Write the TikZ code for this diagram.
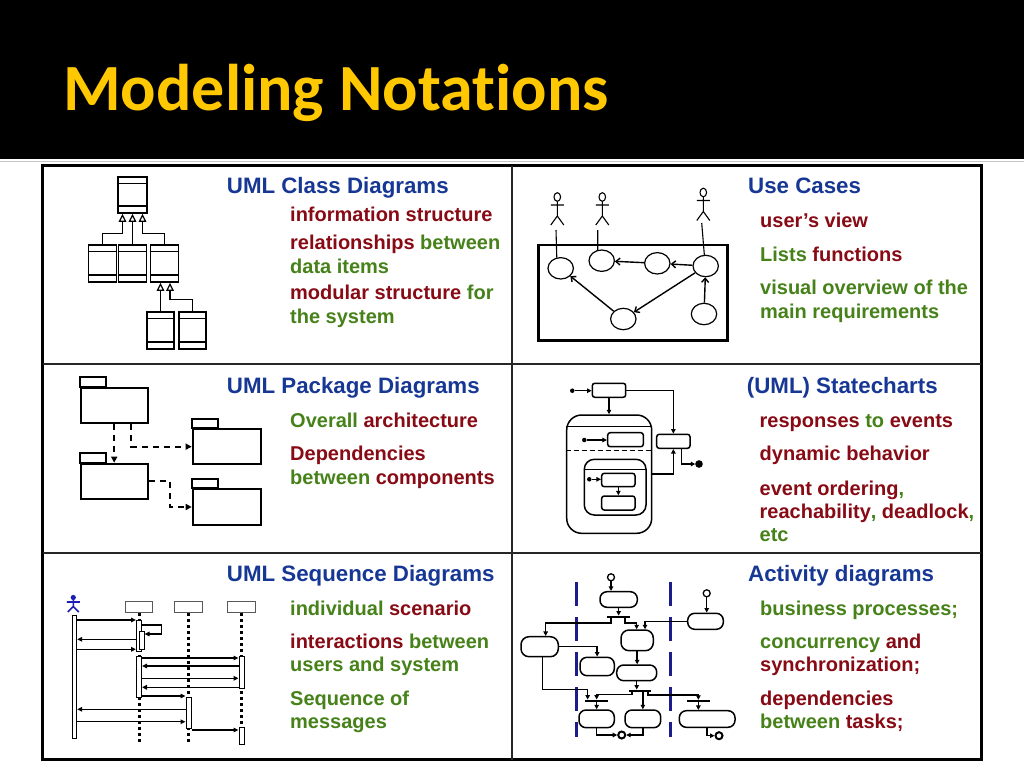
\documentclass[tikz,border=0pt]{standalone}
\usepackage{fontspec}
\setmainfont{Liberation Sans}
\newfontfamily\ttlfont{Carlito}[Ligatures={NoCommon}]
\usetikzlibrary{arrows.meta,calc,shapes.geometric}
\definecolor{hblue}{RGB}{23,55,148}
\definecolor{dred}{RGB}{135,10,20}
\definecolor{dgreen}{RGB}{70,130,25}
\definecolor{gold}{RGB}{255,200,0}
\definecolor{navy}{RGB}{28,28,140}
\definecolor{seqblue}{RGB}{30,30,180}
\newcommand\redt[1]{\textcolor{dred}{#1}}
\newcommand\grnt[1]{\textcolor{dgreen}{#1}}
\begin{document}
\begin{tikzpicture}[x=1pt,y=-1pt,
  hd/.style={anchor=base west, inner sep=0, text=hblue, font=\bfseries\fontsize{22.3}{26}\selectfont},
  it/.style={anchor=base west, inner sep=0, font=\bfseries\fontsize{20}{24}\selectfont},
  cls/.style={draw, line width=1.5pt, minimum width=28pt, minimum height=37pt, inner sep=0,
    path picture={\draw[line width=1.5pt]
      ([yshift=-6.5pt]path picture bounding box.north west) -- ([yshift=-6.5pt]path picture bounding box.north east)
      ([yshift=7pt]path picture bounding box.south west) -- ([yshift=7pt]path picture bounding box.south east);}},
  gen/.style={line width=1.5pt, -{Triangle[length=8pt,width=7.5pt,fill=white,line width=1.2pt]}},
  uc/.style={draw, ellipse, line width=1.2pt, minimum width=25.4pt, minimum height=21.4pt, inner sep=0},
  uarr/.style={line width=1.4pt, -{Straight Barb[length=4pt,width=7pt]}},
  pk/.style={draw, line width=2pt, inner sep=0},
  dep/.style={line width=2pt, dash pattern=on 6pt off 5pt, -{Triangle[length=6pt,width=6pt]}},
  st/.style={draw, line width=1.5pt, rounded corners=2.5pt, inner sep=0},
  sarr/.style={line width=1.5pt, -{Triangle[length=4.5pt,width=4.5pt]}},
  sdot/.style={circle, fill, inner sep=0, minimum size=4.5pt},
  obj/.style={draw=gray!70!black, line width=1pt, inner sep=0, minimum height=11pt, fill=white},
  life/.style={line width=3pt, dash pattern=on 3pt off 3pt},
  actb/.style={draw, line width=1pt, fill=white, inner sep=0, minimum width=5pt},
  msg/.style={line width=1.4pt, -{Triangle[length=5pt,width=4.5pt]}},
  act/.style={draw, line width=1.5pt, rounded corners=7pt, inner sep=0},
  fbar/.style={fill, inner sep=0, minimum height=2pt},
  aarr/.style={line width=1.5pt, -{Triangle[length=4.5pt,width=4.5pt]}},
  lane/.style={navy, line width=3pt, dash pattern=on 24pt off 11pt},
  stick/.pic={\draw[line width=1.1pt] (0,0) ellipse [x radius=3.3pt, y radius=4.3pt];
    \draw[line width=1.1pt] (0,4.3) -- (0,19) (-6.5,8) -- (6.5,8) (-6.5,28) -- (0,19) -- (6.5,28);},
  bluestick/.pic={\fill[seqblue] (0,0) circle[radius=2.6pt];
    \draw[seqblue, line width=1.6pt] (0,2) -- (0,9) (-6.5,4.5) -- (6.5,4.5) (-5.5,14.5) -- (0,9) -- (5.5,14.5);}
]
\useasboundingbox (0,0) rectangle (1024,768);
\fill[white] (0,0) rectangle (1024,768);
\fill[black] (0,0) rectangle (1024,159);
\draw[gray!45, line width=1.5pt] (0,161.5) -- (1024,161.5);
\node[anchor=base west, inner sep=0, text=gold, font=\ttlfont\bfseries\fontsize{66}{70}\selectfont] (title) at (63,110) {Modeling Notations};

% table
\draw[line width=3pt] (42.5,165.5) rectangle (981,759.5);
\draw[gray!30!black, line width=2pt] (512,165.5) -- (512,759.5);
\draw[gray!30!black, line width=2pt] (42.5,364) -- (981,364);
\draw[gray!30!black, line width=2pt] (42.5,552.5) -- (981,552.5);

% texts
\node[hd] (h1) at (226.7,193.3) {UML Class Diagrams};
\node[it] (t11) at (290,221.5) {\redt{information structure}};
\node[it] (t12) at (290,249.5) {\redt{relationships} \grnt{between}};
\node[it] (t13) at (290,273) {\grnt{data items}};
\node[it] (t14) at (290,299.5) {\redt{modular structure} \grnt{for}};
\node[it] (t15) at (290,323.5) {\grnt{the system}};

\node[hd] (h2) at (748,193.3) {Use Cases};
\node[it] (t21) at (760,227) {\redt{user’s view}};
\node[it] (t22) at (760,261) {\grnt{Lists} \redt{functions}};
\node[it] (t23) at (760,294) {\grnt{visual overview of the}};
\node[it] (t24) at (760,318) {\grnt{main requirements}};

\node[hd] (h3) at (226.7,393.3) {UML Package Diagrams};
\node[it] (t31) at (290,427.3) {\grnt{Overall} \redt{architecture}};
\node[it] (t32) at (290,460.7) {\redt{Dependencies}};
\node[it] (t33) at (290,484.3) {\grnt{between} \redt{components}};

\node[hd] (h4) at (746.7,393.3) {(UML) Statecharts};
\node[it] (t41) at (759.5,427.3) {\redt{responses} \grnt{to} \redt{events}};
\node[it] (t42) at (759.5,460.7) {\redt{dynamic behavior}};
\node[it] (t43) at (759.5,495) {\redt{event ordering}\grnt{,}};
\node[it] (t44) at (759.5,518.3) {\redt{reachability}\grnt{,} \redt{deadlock}\grnt{,}};
\node[it] (t45) at (759.5,541.7) {\grnt{etc}};

\node[hd] (h5) at (226.7,581.7) {UML Sequence Diagrams};
\node[it] (t51) at (290,615) {\grnt{individual} \redt{scenario}};
\node[it] (t52) at (290,648.3) {\redt{interactions} \grnt{between}};
\node[it] (t53) at (290,671.7) {\grnt{users and system}};
\node[it] (t54) at (290,705) {\grnt{Sequence of}};
\node[it] (t55) at (290,728.3) {\grnt{messages}};

\node[hd] (h6) at (748,581.7) {Activity diagrams};
\node[it] (t61) at (760,615) {\grnt{business processes;}};
\node[it] (t62) at (760,648.3) {\grnt{concurrency} \redt{and}};
\node[it] (t63) at (760,671.7) {\redt{synchronization;}};
\node[it] (t64) at (760,705) {\redt{dependencies}};
\node[it] (t65) at (760,728.3) {\grnt{between} \redt{tasks;}};

% ---- class diagram
\node[cls, minimum width=29pt, minimum height=36pt] (ctop) at (132.5,195) {};
\node[cls] (c1) at (102.5,263.5) {};
\node[cls] (c2) at (132.5,263.5) {};
\node[cls] (c3) at (164.5,263.5) {};
\node[cls, minimum width=27pt] (c4) at (160.5,330.5) {};
\node[cls, minimum width=27pt] (c5) at (192.5,330.5) {};
\draw[gen] (c1.north) -- ++(0,-11) -| ([xshift=-10pt]ctop.south);
\draw[gen] (c2.north) -- (ctop.south);
\draw[gen] (c3.north) -- ++(0,-11) -| ([xshift=10pt]ctop.south);
\draw[gen] (c4.north) -- (c4.north |- c3.south);
\draw[gen] (c5.north) -- ++(0,-12) -| ([xshift=5.5pt]c3.south);

% ---- use cases
\node[draw, line width=2.5pt, minimum width=189.4pt, minimum height=95.7pt, inner sep=0] (ucb) at (633,292.85) {};
\node[uc] (E1) at (560.7,268.3) {};
\node[uc] (E2) at (601.7,260.7) {};
\node[uc] (E3) at (657.3,263.3) {};
\node[uc] (E4) at (705.7,266) {};
\node[uc] (E5) at (623.3,319) {};
\node[uc] (E6) at (704,314) {};
\pic (u1) at (557.3,197) {stick};
\pic (u2) at (602.3,197) {stick};
\pic (u3) at (703.3,192.5) {stick};
\coordinate (a1f) at (556,230);
\coordinate (a2f) at (597.7,230);
\coordinate (a3f) at (701.7,223);
\draw[line width=1.1pt] (a1f) -- (E1.110);
\draw[line width=1.1pt] (a2f) -- (E2.110);
\draw[line width=1.1pt] (a3f) -- (E4.97);
\draw[uarr] (E4) -- (E3);
\draw[uarr] (E3) -- (E2);
\draw[uarr] (E4) -- (E5);
\draw[uarr] (E5) -- (E1);
\draw[uarr] (E6) -- (E4);

% ---- packages
\node[pk, minimum width=67pt, minimum height=35pt] (p1) at (114.2,405.8) {};
\node[pk, minimum width=67pt, minimum height=35.3pt] (p2) at (114.2,481.35) {};
\node[pk, minimum width=68pt, minimum height=35.3pt] (p3) at (226.7,446.65) {};
\node[pk, minimum width=68pt, minimum height=36pt] (p4) at (226.7,507) {};
\draw[line width=2pt] (p1.north west) rectangle ++(26,-10);
\draw[line width=2pt] (p2.north west) rectangle ++(26,-9.5);
\draw[line width=2pt] (p3.north west) rectangle ++(26,-9.5);
\draw[line width=2pt] (p4.north west) rectangle ++(26,-9);
\draw[dep] (p1.south) -- (p2.north);
\draw[dep] ([xshift=17pt]p1.south) |- (p3.west);
\draw[dep] (p2.east) -| ($(p2.east)!0.5!(p4.west)$) |- (p4.west);

% ---- statechart
\node[sdot] (s0) at (572.3,390.7) {};
\node[st, minimum width=33.4pt, minimum height=14pt] (sA) at (609,390.3) {};
\node[draw, line width=1.5pt, rounded corners=15pt, minimum width=85pt, minimum height=118.3pt, inner sep=0] (sBig) at (609.2,474.15) {};
\draw[line width=1.5pt] ([yshift=-12.3pt]sBig.north west) -- ([yshift=-12.3pt]sBig.north east);
\draw[line width=1.5pt, dash pattern=on 5pt off 3pt] ([yshift=-36pt]sBig.north west) -- ([yshift=-36pt]sBig.north east);
\node[sdot] (r1) at (584.3,440) {};
\node[st, minimum width=35.6pt, minimum height=14pt] (sR1) at (625.5,439.7) {};
\node[draw, line width=1.5pt, rounded corners=10pt, minimum width=61.7pt, minimum height=55.7pt, inner sep=0] (sIn) at (615.15,487.15) {};
\draw[line width=1.5pt] ([yshift=-10.7pt]sIn.north west) -- ([yshift=-10.7pt]sIn.north east);
\node[sdot] (r2) at (589.3,479.3) {};
\node[st, minimum width=33.3pt, minimum height=13.4pt] (sIA) at (618.35,480) {};
\node[st, minimum width=33.3pt, minimum height=14pt] (sIB) at (618.35,503) {};
\node[st, minimum width=33.3pt, minimum height=14pt] (sB) at (673.35,441.3) {};
\node[circle, fill, draw, line width=1pt, inner sep=0, minimum size=6.5pt] (sF) at (699,464) {};
\draw[sarr] (s0) -- (s0 -| sA.west);
\draw[sarr] (sA.south) -- (sA.south |- sBig.north);
\draw[sarr] (sA.east) -| (sB.north);
\draw[sarr] (sBig.east) -| (sB.south);
\draw[sarr] ([xshift=8pt]sB.south) |- (sF);
\draw[sarr] (r1) -- (r1 -| sR1.west);
\draw[sarr] (r2) -- (r2 -| sIA.west);
\draw[sarr] (sIA.south) -- (sIB.north);

% ---- sequence
\pic (sq) at (73.3,597.5) {bluestick};
\node[actb, minimum width=4.4pt, minimum height=123.3pt] (SA) at (74.5,676.65) {};
\node[obj, minimum width=27.3pt] (O1) at (139,607.2) {};
\node[obj, minimum width=28.4pt] (O2) at (188.5,607.2) {};
\node[obj, minimum width=28.3pt] (O3) at (241.5,607.2) {};
\coordinate (send) at (0,742);
\draw[life] (O1.south) -- (O1.south |- send);
\draw[life] (O2.south) -- (O2.south |- send);
\draw[life] (O3.south) -- (O3.south |- send);
\node[actb, minimum height=31.7pt] (A1) at (139,635.85) {};
\node[actb, minimum height=17.6pt] (A1n) at (141.5,640.5) {};
\node[actb, minimum height=40.6pt] (A1b) at (139,677) {};
\node[actb, minimum height=31.6pt] (A3) at (241.5,672.5) {};
\node[actb, minimum height=31pt] (A2) at (188.5,712.8) {};
\node[actb, minimum height=17pt] (A3b) at (241.5,735.5) {};
\coordinate (y1) at (0,620);
\coordinate (ys1) at (0,625);
\coordinate (ys2) at (0,634);
\coordinate (y2) at (0,639.3);
\coordinate (y3) at (0,649.3);
\coordinate (y4) at (0,658);
\coordinate (y5) at (0,666);
\coordinate (y6) at (0,678.3);
\coordinate (y7) at (0,687.3);
\coordinate (y8) at (0,696);
\coordinate (y9) at (0,709.3);
\coordinate (y10) at (0,721.7);
\coordinate (y11) at (0,730);
\draw[msg] (SA.east |- y1) -- (A1.west |- y1);
\draw[msg] (A1.east |- ys1) -- ++(19.7,0) |- (A1n.east |- ys2);
\draw[msg] (A1.west |- y2) -- (SA.east |- y2);
\draw[msg] (SA.east |- y3) -- (A1.west |- y3);
\draw[msg] (A1b.east |- y4) -- (A3.west |- y4);
\draw[msg] (A3.west |- y5) -- (A1b.east |- y5);
\draw[msg] (A1b.east |- y6) -- (A3.west |- y6);
\draw[msg] (A3.west |- y7) -- (A1b.east |- y7);
\draw[msg] (A1b.east |- y8) -- (A2.west |- y8);
\draw[msg] (A2.west |- y9) -- (SA.east |- y9);
\draw[msg] (SA.east |- y10) -- (A2.west |- y10);
\draw[msg] (A2.east |- y11) -- (A3b.west |- y11);

% ---- activity
\draw[lane] (576.5,582) -- (576.5,737);
\draw[lane] (670.7,582) -- (670.7,737);
\node[draw, circle, line width=1.3pt, minimum size=7pt, inner sep=0] (st1) at (611,577.3) {};
\node[draw, circle, line width=1.3pt, minimum size=7pt, inner sep=0] (st2) at (706.7,593.3) {};
\node[act, minimum width=37.3pt, minimum height=15.6pt] (aA) at (618.65,599.5) {};
\node[act, minimum width=35.6pt, minimum height=16pt] (aB) at (705.5,621.3) {};
\node[act, minimum width=37.3pt, minimum height=20pt, rounded corners=8pt] (aC) at (539.65,646.7) {};
\node[act, minimum width=32.3pt, minimum height=20.7pt, rounded corners=8pt] (aD) at (637.15,640.35) {};
\node[act, minimum width=34.3pt, minimum height=18.4pt] (aE) at (597.15,666.5) {};
\node[act, minimum width=40pt, minimum height=15.7pt] (aF) at (636.7,672.85) {};
\node[act, minimum width=35.3pt, minimum height=17.7pt] (aG) at (596.65,718.85) {};
\node[act, minimum width=35.7pt, minimum height=17.7pt] (aH) at (642.85,718.85) {};
\node[act, minimum width=55.7pt, minimum height=16.6pt] (aI) at (707.15,719) {};
\node[fbar, minimum width=23.3pt] (FB1) at (618.35,616.7) {};
\node[fbar, minimum width=22pt] (FB2) at (640,690.7) {};
\node[fbar, minimum width=23.3pt] (JB1) at (596.65,700.7) {};
\node[fbar, minimum width=23.3pt] (JB2) at (698.35,701) {};
\node[draw, circle, line width=2pt, minimum size=7pt, inner sep=0] (fin1) at (621.7,735) {};
\node[draw, circle, line width=2pt, minimum size=7pt, inner sep=0] (fin2) at (719,735.7) {};
\draw[aarr] (st1) -- (st1 |- aA.north);
\draw[aarr] (st2) -- (st2 |- aB.north);
\draw[aarr] (aA.south) -- (aA.south |- FB1.north);
\draw[aarr] ([xshift=-7.35pt]FB1.south) -- ++(0,5) -| ([xshift=6pt]aC.north);
\draw[aarr] ([xshift=6.65pt]FB1.south) -- ++(0,5) -| ([xshift=-0.5pt]aD.north);
\draw[aarr] (aB.west) -| ([xshift=7.85pt]aD.north);
\draw[aarr] (aC.east) -| (aE.north);
\draw[aarr] (aD.south) -- (aD.south |- aF.north);
\draw[aarr] (aF.south) -- (aF.south |- FB2.north);
\draw[aarr] ([xshift=-8pt]FB2.south) -- ++(0,2.5) -| (JB1.north);
\draw[aarr] ([xshift=2.85pt]FB2.south) -- (aH.north);
\draw[aarr] ([xshift=8pt]FB2.south) -- ++(0,3) -| (JB2.north);
\draw[aarr] ([xshift=2.7pt]aC.south) |- ($(JB1.north)+(-9,-10)$) -- ([xshift=-9pt]JB1.north);
\draw[aarr] (JB1.south) -- (aG.north);
\draw[aarr] (JB2.south) -- (JB2.south |- aI.north);
\draw[aarr] (aG.south) |- (fin1);
\draw[aarr] (aH.south) |- (fin1);
\draw[aarr] (aI.south) |- (fin2);
\end{tikzpicture}
\end{document}
